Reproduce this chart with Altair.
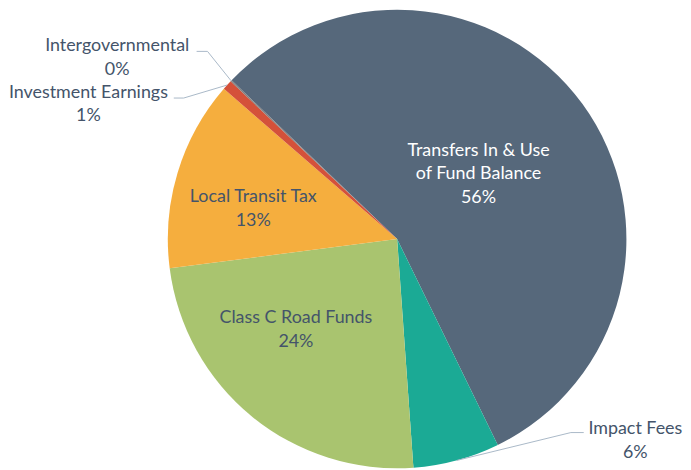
import math
import pandas as pd
import altair as alt

# ---- data ----
categories = ["Transfers In & Use of Fund Balance", "Impact Fees", "Class C Road Funds",
              "Local Transit Tax", "Investment Earnings", "Intergovernmental"]
label_names = ["Transfers In & Use\nof Fund Balance", "Impact Fees", "Class C Road Funds",
               "Local Transit Tax", "Investment Earnings", "Intergovernmental"]
values = [55.6, 6.1, 24.1, 13.4, 0.7, 0.1]
colors = ["#56687B", "#1BAA95", "#A9C46F", "#F5AE3E", "#D4513A", "#7F7F7F"]

# ---- layout ----
W, H = 675, 454
CX, CY = 392, 231
R = 231
START = 313.8  # degrees, clockwise from 12 o'clock
TEXT = "#44546A"
LEADER = "#A9B8C8"
FONT = "Lato"
FS = 18
LH = 24

inside = {  # polar placement of label block centre: (radius, angle in degrees)
    "Transfers In & Use of Fund Balance": (104.6, 51.6),
    "Local Transit Tax": (148, 281.7),
    "Class C Road Funds": (137, 228.1),
}
outside = {  # label block centre, leader elbow, leader end (chart px)
    "Intergovernmental": ((110, 49), (201, 42), (190, 42)),
    "Investment Earnings": ((81, 95.5), (177, 89), (167, 89)),
    "Impact Fees": ((632, 434.5), (567, 426), (580, 426)),
}

total = sum(values)
pie_df = pd.DataFrame({"category": categories, "value": values, "order": range(len(values))})

rows, lines = [], []
acc = START
for cat, name, v in zip(categories, label_names, values):
    span = v / total * 360
    mid = acc + span / 2
    acc += span
    txt = f"{name}\n{round(v / total * 100)}%"
    n = txt.count("\n") + 1
    if cat in inside:
        r, a = inside[cat]
        x = CX + r * math.sin(math.radians(a))
        y = CY - r * math.cos(math.radians(a))
    else:
        (x, y), (ex, ey), (tx, ty) = outside[cat]
        sx = CX + R * math.sin(math.radians(mid))
        sy = CY - R * math.cos(math.radians(mid))
        for i, (px, py) in enumerate([(sx, sy), (ex, ey), (tx, ty)]):
            lines.append({"category": cat, "i": i, "x": px, "y": py})
    # first line's centre so that the block is centred on (x, y)
    rows.append({"category": cat, "text": txt, "x": x, "y": y - (n - 1) * LH / 2})

lab_df = pd.DataFrame(rows)
line_df = pd.DataFrame(lines)

xs = alt.Scale(domain=[0, W], range=[0, W], nice=False, zero=False)
ys = alt.Scale(domain=[0, H], range=[0, H], nice=False, zero=False)

arcs = alt.Chart(pie_df).mark_arc(outerRadius=R, strokeWidth=0).encode(
    theta=alt.Theta("value:Q", stack=True,
                    scale=alt.Scale(range=[math.radians(START), math.radians(START) + 2 * math.pi])),
    color=alt.Color("category:N", scale=alt.Scale(domain=categories, range=colors), legend=None),
    order=alt.Order("order:Q"),
    x=alt.value(CX), y=alt.value(CY),
)

leaders = alt.Chart(line_df).mark_line(color=LEADER, strokeWidth=1).encode(
    x=alt.X("x:Q", scale=xs, axis=None),
    y=alt.Y("y:Q", scale=ys, axis=None),
    detail="category:N",
    order="i:Q",
)

labels = alt.Chart(lab_df).mark_text(
    font=FONT, fontSize=FS, lineBreak="\n", lineHeight=LH, align="center", baseline="middle"
).encode(
    x=alt.X("x:Q", scale=xs, axis=None),
    y=alt.Y("y:Q", scale=ys, axis=None),
    text="text:N",
    color=alt.condition(alt.datum.category == categories[0], alt.value("white"), alt.value(TEXT)),
)

chart = alt.layer(arcs, leaders, labels).properties(
    width=W, height=H, padding=0
).configure_view(stroke=None).resolve_scale(x="shared", y="shared")

chart.save("out.html", embed_options={"renderer": "svg", "actions": False})
